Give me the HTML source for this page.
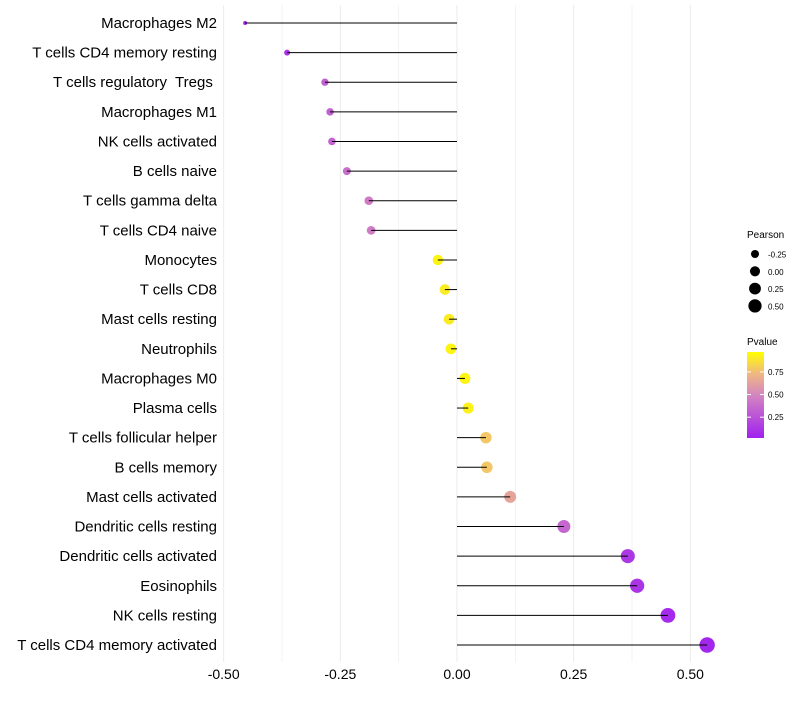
<!DOCTYPE html>
<html><head><meta charset="utf-8"><style>
body{margin:0;background:#fff}
svg text{font-family:"Liberation Sans",sans-serif;white-space:pre}
</style></head><body>
<svg id="c" width="800" height="700"></svg>
<script>
const categories=["Macrophages M2","T cells CD4 memory resting","T cells regulatory  Tregs ","Macrophages M1","NK cells activated","B cells naive","T cells gamma delta","T cells CD4 naive","Monocytes","T cells CD8","Mast cells resting","Neutrophils","Macrophages M0","Plasma cells","T cells follicular helper","B cells memory","Mast cells activated","Dendritic cells resting","Dendritic cells activated","Eosinophils","NK cells resting","T cells CD4 memory activated"];
const pearson=[-0.454,-0.364,-0.283,-0.272,-0.268,-0.236,-0.189,-0.184,-0.041,-0.026,-0.017,-0.013,0.017,0.024,0.062,0.064,0.114,0.229,0.366,0.386,0.452,0.536];
const pvalue=[0.04,0.1,0.32,0.32,0.33,0.38,0.45,0.45,0.96,0.93,0.93,0.96,0.96,0.95,0.8,0.8,0.65,0.35,0.12,0.1,0.05,0.03];
const xTicks=[-0.5,-0.25,0,0.25,0.5];
const xTickLabels=["-0.50","-0.25","0.00","0.25","0.50"];
const sizeLegend=[-0.25,0,0.25,0.5];
const colorTicks=[0.25,0.5,0.75];

const NS="http://www.w3.org/2000/svg",svg=document.getElementById('c');
function mk(t,a,p){const e=document.createElementNS(NS,t);for(const k in a)e.setAttribute(k,a[k]);(p||svg).appendChild(e);return e;}
const x=v=>457+v*466.67;
const y=i=>23+i*(622/21);
const vMin=Math.min(...pearson),vMax=Math.max(...pearson);
const r=v=>Math.sqrt(Math.max(2.5,4+(v-vMin)/(vMax-vMin)*55.3));
const rl=v=>Math.sqrt(16+(v+0.25)/0.75*28);
const stops=[[0,[160,32,240]],[0.5,[212,134,192]],[0.75,[240,184,128]],[1,[255,255,0]]];
function col(p){p=Math.max(0,Math.min(1,p));for(let i=1;i<stops.length;i++){if(p<=stops[i][0]){const a=stops[i-1],b=stops[i],t=(p-a[0])/(b[0]-a[0]);return 'rgb('+a[1].map((c,j)=>Math.round(c+(b[1][j]-c)*t)).join(',')+')';}}}
for(let v=-0.5;v<=0.5001;v+=0.125){const g=mk('line',{x1:x(v),x2:x(v),y1:5,y2:662,stroke:'#ebebeb','stroke-width':Math.abs(v*4-Math.round(v*4))<1e-6?1:0.6});

}
xTicks.forEach((v,i)=>{const t=mk('text',{x:x(v),y:679,'text-anchor':'middle','font-size':14,fill:'#000'});t.textContent=xTickLabels[i];

});
categories.forEach((c,i)=>{
 const t=mk('text',{x:217,y:y(i)+5,'text-anchor':'end','font-size':15,fill:'#000'});t.textContent=c;
 
 
 const p=mk('circle',{cx:x(pearson[i]),cy:y(i),r:r(pearson[i]),fill:col(pvalue[i])});
 
 
 const l=mk('line',{x1:x(0),x2:x(pearson[i]),y1:y(i),y2:y(i),stroke:'#000','stroke-width':1});
 
 
});
let t=mk('text',{x:747,y:238,'font-size':10});t.textContent='Pearson';


sizeLegend.forEach((v,i)=>{const cy=254+i*17.3;const c=mk('circle',{cx:755,cy:cy,r:rl(v),fill:'#000'});
 
 
 const tt=mk('text',{x:768,y:cy+3.5,'font-size':8});tt.textContent=v.toFixed(2);
 
 });
t=mk('text',{x:747,y:345,'font-size':10});t.textContent='Pvalue';


const defs=mk('defs',{});const lg=mk('linearGradient',{id:'g',x1:0,y1:1,x2:0,y2:0},defs);
stops.forEach(s=>mk('stop',{offset:s[0],'stop-color':'rgb('+s[1].join(',')+')'},lg));
const barTop=352,barBot=438,pTop=0.97,pBot=0.02;const py=p=>barBot-(p-pBot)/(pTop-pBot)*(barBot-barTop);
const bar=mk('rect',{x:747,y:barTop,width:17,height:barBot-barTop,fill:'url(#g)'});


colorTicks.forEach(v=>{mk('line',{x1:747,x2:751,y1:py(v),y2:py(v),stroke:'#fff'});mk('line',{x1:760,x2:764,y1:py(v),y2:py(v),stroke:'#fff'});
 const tt=mk('text',{x:768,y:py(v)+3,'font-size':8});tt.textContent=v.toFixed(2);
 
 });
</script>
</body></html>
